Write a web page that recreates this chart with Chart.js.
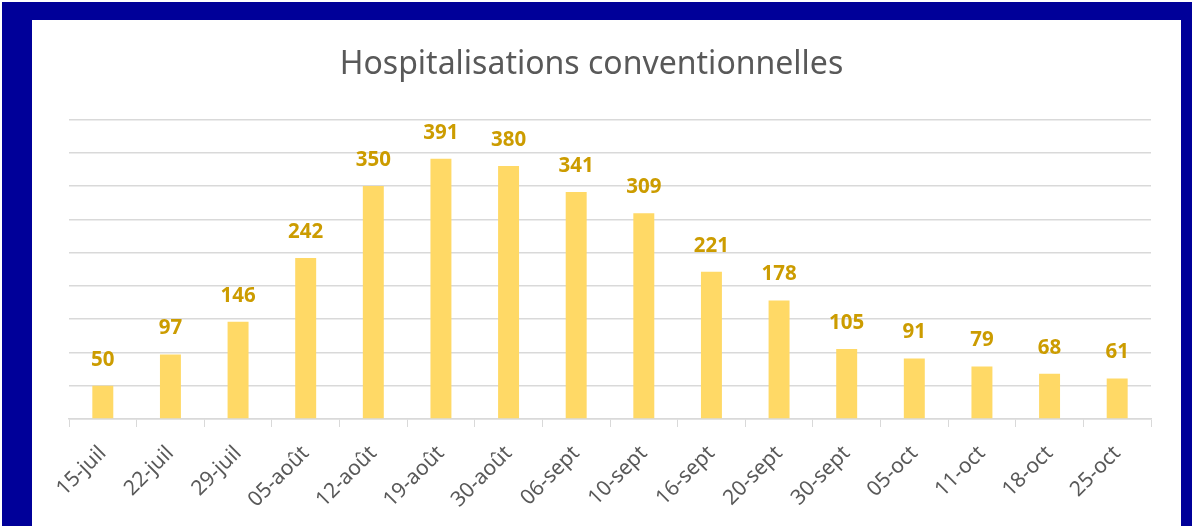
<!DOCTYPE html>
<html>
<head>
<meta charset="utf-8">
<script src="https://cdn.jsdelivr.net/npm/chart.js@4"></script>
<style>
  body { margin: 0; background: #ffffff; }
  #frame { position: absolute; left: 2px; top: 2px; right: 0; bottom: 0; background: #000099; }
  #chart { position: absolute; left: 32px; top: 20px; background: #ffffff; }
</style>
</head>
<body>
<div id="frame"></div>
<canvas id="chart" width="1149" height="506"></canvas>
<script>
const categories = ["15-juil", "22-juil", "29-juil", "05-août", "12-août", "19-août", "30-août", "06-sept",
  "10-sept", "16-sept", "20-sept", "30-sept", "05-oct", "11-oct", "18-oct", "25-oct"];
const hospitalisations = [50, 97, 146, 242, 350, 391, 380, 341, 309, 221, 178, 105, 91, 79, 68, 61];
const yMax = 450;
const yStep = 50;

const fontFamily = "'Noto Sans', 'Open Sans', sans-serif";

// draws the value above each bar
const valueLabels = {
  id: "valueLabels",
  afterDatasetsDraw(chart) {
    const ctx = chart.ctx;
    const meta = chart.getDatasetMeta(0);
    ctx.save();
    ctx.font = "bold 20.5px " + fontFamily;
    ctx.fillStyle = "#CC9C00";
    ctx.textAlign = "center";
    ctx.textBaseline = "middle";
    meta.data.forEach((bar, i) => {
      ctx.fillText(hospitalisations[i], bar.x, bar.y - 26);
    });
    ctx.restore();
  }
};

new Chart(document.getElementById("chart"), {
  type: "bar",
  data: {
    labels: categories,
    datasets: [{
      label: "Hospitalisations conventionnelles",
      data: hospitalisations,
      backgroundColor: "#FFD966",
      categoryPercentage: 1,
      barPercentage: 0.31
    }]
  },
  options: {
    responsive: false,
    animation: false,
    layout: { padding: { left: 0, right: 30, top: 0, bottom: 0 } },
    plugins: {
      legend: { display: false },
      tooltip: { enabled: false },
      title: {
        display: true,
        text: "Hospitalisations conventionnelles",
        color: "#595959",
        font: { family: fontFamily, size: 32, weight: "normal", lineHeight: 1.2 },
        padding: { top: 26, bottom: 35 }
      }
    },
    scales: {
      x: {
        grid: { display: true, drawOnChartArea: false, color: "#D9D9D9", tickLength: 8, offset: true },
        border: { display: true, color: "#D9D9D9", width: 1.5 },
        ticks: {
          color: "#595959",
          font: { family: fontFamily, size: 21 },
          minRotation: 45,
          maxRotation: 45,
          autoSkip: false,
          padding: 14
        },
        afterFit: s => { s.height = 107; }
      },
      y: {
        min: 0,
        max: yMax,
        ticks: { display: false, stepSize: yStep },
        grid: { color: "#D9D9D9", lineWidth: 1.5, drawTicks: false },
        border: { display: false },
        afterFit: s => { s.width = 37; }
      }
    }
  },
  plugins: [valueLabels]
});
</script>
</body>
</html>
